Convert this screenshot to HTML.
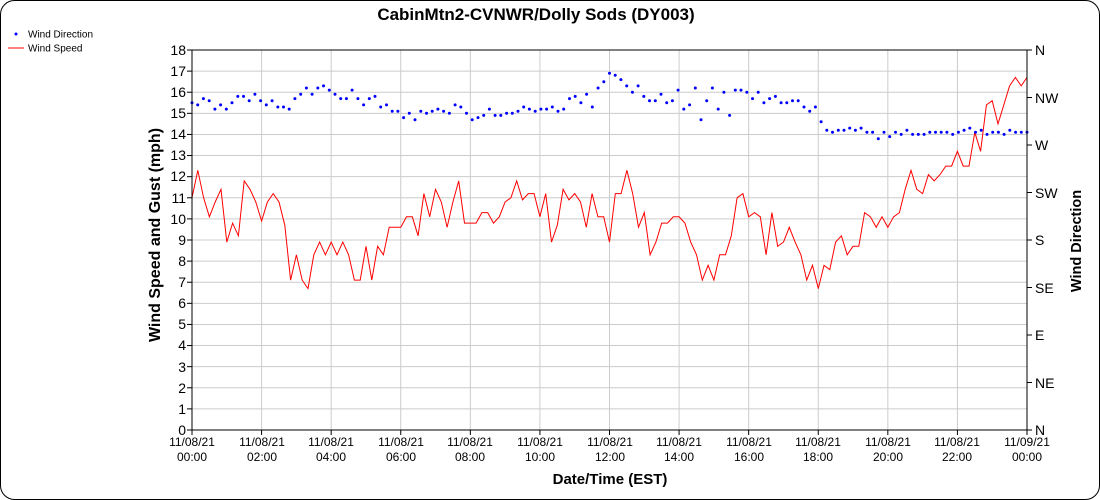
<!DOCTYPE html>
<html><head><meta charset="utf-8"><style>
html,body{margin:0;padding:0;background:#fff;}
svg{display:block;font-family:"Liberation Sans",Arial,sans-serif;}
</style></head><body>
<svg id="c" width="1100" height="500" viewBox="0 0 1100 500" xmlns="http://www.w3.org/2000/svg">
<rect x="0.5" y="0.5" width="1099" height="499" rx="14" fill="#fff" stroke="#000"/>
<text x="536" y="20" text-anchor="middle" font-size="17" font-weight="bold">CabinMtn2-CVNWR/Dolly Sods (DY003)</text>
<circle cx="16" cy="34" r="1.5" fill="#00f"/>
<text x="28" y="37.5" font-size="10">Wind Direction</text>
<line x1="8" y1="48" x2="24" y2="48" stroke="#f00"/>
<text x="28" y="51.5" font-size="10">Wind Speed</text>
<g id="grid" stroke="#ccc" stroke-width="1"></g>
<g id="series"></g>
<line x1="192" y1="50" x2="1027" y2="50" stroke="#000"/>
<line x1="192" y1="50" x2="192" y2="430" stroke="#000"/>
<line x1="1027" y1="50" x2="1027" y2="430" stroke="#000"/>
<line x1="192" y1="430" x2="1027" y2="430" stroke="#000"/>
<g id="ticks" stroke="#000"></g>
<g font-size="14" text-anchor="end">
<text x="186" y="55">18</text><text x="186" y="76">17</text><text x="186" y="97">16</text><text x="186" y="118">15</text><text x="186" y="139">14</text><text x="186" y="160">13</text><text x="186" y="181">12</text><text x="186" y="203">11</text><text x="186" y="224">10</text><text x="186" y="245">9</text><text x="186" y="266">8</text><text x="186" y="287">7</text><text x="186" y="308">6</text><text x="186" y="329">5</text><text x="186" y="350">4</text><text x="186" y="372">3</text><text x="186" y="393">2</text><text x="186" y="414">1</text><text x="186" y="435">0</text>
</g>
<g font-size="14">
<text x="1035" y="55">N</text><text x="1035" y="103">NW</text><text x="1035" y="150">W</text><text x="1035" y="198">SW</text><text x="1035" y="245">S</text><text x="1035" y="293">SE</text><text x="1035" y="340">E</text><text x="1035" y="388">NE</text><text x="1035" y="435">N</text>
</g>
<g font-size="12" text-anchor="middle">
<text x="192" y="446">11/08/21</text><text x="192" y="461">00:00</text>
<text x="262" y="446">11/08/21</text><text x="262" y="461">02:00</text>
<text x="331" y="446">11/08/21</text><text x="331" y="461">04:00</text>
<text x="401" y="446">11/08/21</text><text x="401" y="461">06:00</text>
<text x="470" y="446">11/08/21</text><text x="470" y="461">08:00</text>
<text x="540" y="446">11/08/21</text><text x="540" y="461">10:00</text>
<text x="610" y="446">11/08/21</text><text x="610" y="461">12:00</text>
<text x="679" y="446">11/08/21</text><text x="679" y="461">14:00</text>
<text x="749" y="446">11/08/21</text><text x="749" y="461">16:00</text>
<text x="818" y="446">11/08/21</text><text x="818" y="461">18:00</text>
<text x="888" y="446">11/08/21</text><text x="888" y="461">20:00</text>
<text x="957" y="446">11/08/21</text><text x="957" y="461">22:00</text>
<text x="1027" y="446">11/09/21</text><text x="1027" y="461">00:00</text>
</g>
<text x="610" y="484" text-anchor="middle" font-size="15" font-weight="bold">Date/Time (EST)</text>
<text transform="translate(160,235) rotate(-90)" text-anchor="middle" font-size="16" font-weight="bold">Wind Speed and Gust (mph)</text>
<text transform="translate(1081,241) rotate(-90)" text-anchor="middle" font-size="14.5" font-weight="bold">Wind Direction</text>
</svg>
<script>
var NS="http://www.w3.org/2000/svg";
function el(n,a,p){var e=document.createElementNS(NS,n);for(var k in a)e.setAttribute(k,a[k]);p.appendChild(e);return e;}
var L=192,R=1027,T=50,B=430;
function Y(v){return B-v*(B-T)/18;}
var g=document.getElementById('grid'),t=document.getElementById('ticks');
for(var i=1;i<18;i++){var y=Y(i);el('line',{x1:L,y1:y,x2:R,y2:y},g);}
for(var i=1;i<12;i++){var x=L+i*(R-L)/12;el('line',{x1:x,y1:T,x2:x,y2:B},g);}
for(var i=0;i<=18;i++){var y=Y(i);el('line',{x1:L-5,y1:y,x2:L,y2:y},t);}
for(var i=0;i<=8;i++){var y=T+i*(B-T)/8;el('line',{x1:R,y1:y,x2:R+5,y2:y},t);}
for(var i=0;i<=12;i++){var x=L+i*(R-L)/12;el('line',{x1:x,y1:B,x2:x,y2:B+5},t);}
var sp=[11,12.3,11,10.1,10.8,11.4,8.9,9.8,9.2,11.8,11.4,10.8,
9.9,10.8,11.2,10.8,9.7,7.1,8.3,7.1,6.7,8.3,8.9,8.3,
8.9,8.3,8.9,8.3,7.1,7.1,8.7,7.1,8.7,8.3,9.6,9.6,
9.6,10.1,10.1,9.2,11.2,10.1,11.4,10.8,9.6,10.8,11.8,9.8,
9.8,9.8,10.3,10.3,9.8,10.1,10.8,11,11.8,10.9,11.2,11.2,
10.1,11.2,8.9,9.7,11.4,10.9,11.2,10.8,9.6,11.2,10.1,10.1,
8.9,11.2,11.2,12.3,11.2,9.6,10.3,8.3,8.9,9.8,9.8,10.1,
10.1,9.8,8.9,8.3,7.1,7.8,7.1,8.3,8.3,9.2,11,11.2,
10.1,10.3,10.1,8.3,10.3,8.7,8.9,9.6,8.9,8.3,7.1,7.8,
6.7,7.8,7.6,8.9,9.2,8.3,8.7,8.7,10.3,10.1,9.6,10.1,
9.6,10.1,10.3,11.4,12.3,11.4,11.2,12.1,11.8,12.1,12.5,12.5,
13.2,12.5,12.5,14.1,13.2,15.4,15.6,14.5,15.4,16.3,16.7,16.3,16.7];
var dr=[15.5,15.4,15.7,15.6,15.2,15.4,15.2,15.5,15.8,15.8,15.6,15.9,
15.6,15.4,15.6,15.3,15.3,15.2,15.7,15.9,16.2,15.9,16.2,16.3,
16.1,15.9,15.7,15.7,16.1,15.7,15.4,15.7,15.8,15.3,15.4,15.1,
15.1,14.8,15.0,14.7,15.1,15.0,15.1,15.2,15.1,15.0,15.4,15.3,
15.0,14.7,14.8,14.9,15.2,14.9,14.9,15.0,15.0,15.1,15.3,15.2,
15.1,15.2,15.2,15.3,15.1,15.2,15.7,15.8,15.5,15.9,15.3,16.2,16.5,
16.9,16.8,16.6,16.3,16.0,16.3,15.8,15.6,15.6,15.9,15.5,15.6,16.1,15.2,15.4,16.2,14.7,15.6,16.2,15.2,16.0,14.9,
16.1,16.1,16.0,15.7,16.0,15.5,15.7,15.8,15.5,15.5,15.6,15.6,15.3,15.1,15.3,14.6,
14.2,14.1,14.2,14.2,14.3,14.2,14.3,14.1,14.1,13.8,14.1,13.9,14.1,14.0,14.2,14.0,14.0,14.0,14.1,14.1,14.1,14.1,14.0,14.1,14.2,14.3,14.1,14.2,14.0,14.1,14.1,14.0,14.2,14.1,14.1,14.1];
var s=document.getElementById('series');
var pts=sp.map(function(v,i){return (L+i*(R-L)/(sp.length-1)).toFixed(1)+','+Y(v).toFixed(1);}).join(' ');
el('polyline',{points:pts,fill:'none',stroke:'#f00','stroke-width':1},s);
dr.forEach(function(v,i){el('circle',{cx:(L+i*(R-L)/(dr.length-1)).toFixed(1),cy:Y(v).toFixed(1),r:1.5,fill:'#00f'},s);});
</script>
</body></html>
